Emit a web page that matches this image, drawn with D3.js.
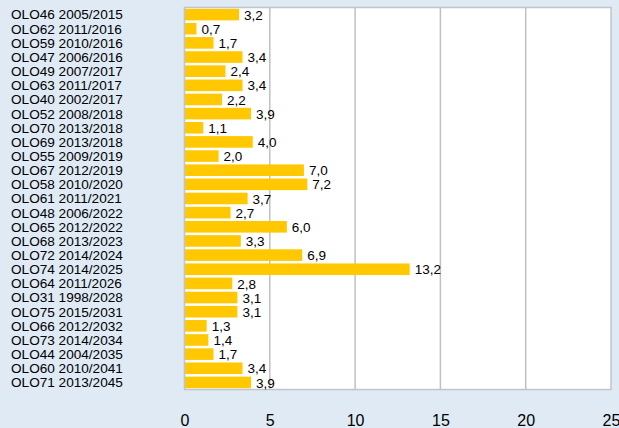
<!DOCTYPE html>
<html><head><meta charset="utf-8">
<script src="https://cdn.jsdelivr.net/npm/d3@7"></script>
<style>html,body{margin:0;padding:0;background:#dfeaf4;}svg{display:block;}</style>
</head><body>
<script>
const categories = ["OLO46 2005/2015","OLO62 2011/2016","OLO59 2010/2016","OLO47 2006/2016","OLO49 2007/2017","OLO63 2011/2017","OLO40 2002/2017","OLO52 2008/2018","OLO70 2013/2018","OLO69 2013/2018","OLO55 2009/2019","OLO67 2012/2019","OLO58 2010/2020","OLO61 2011/2021","OLO48 2006/2022","OLO65 2012/2022","OLO68 2013/2023","OLO72 2014/2024","OLO74 2014/2025","OLO64 2011/2026","OLO31 1998/2028","OLO75 2015/2031","OLO66 2012/2032","OLO73 2014/2034","OLO44 2004/2035","OLO60 2010/2041","OLO71 2013/2045"];
const values = [3.2,0.7,1.7,3.4,2.4,3.4,2.2,3.9,1.1,4.0,2.0,7.0,7.2,3.7,2.7,6.0,3.3,6.9,13.2,2.8,3.1,3.1,1.3,1.4,1.7,3.4,3.9];
const xTicks = [0,5,10,15,20,25];

(function(){
const W=619,H=428;
const pL=184.5,pR=611,pT=7.5,pB=389.5;
const svg=d3.select("body").append("svg").attr("width",W).attr("height",H);
svg.append("rect").attr("width",W).attr("height",H).attr("fill","#dfeaf4");

const x=d3.scaleLinear().domain([0,25]).range([pL,pR]);
const y=d3.scaleBand().domain(categories).range([pT,pB]).paddingInner(0.18).paddingOuter(0.09);

svg.append("rect").attr("x",pL).attr("y",pT).attr("width",pR-pL).attr("height",pB-pT).attr("fill","#fff");

svg.append("g").selectAll("line").data(xTicks.slice(1,-1)).join("line")
  .attr("x1",d=>x(d)).attr("x2",d=>x(d)).attr("y1",pT).attr("y2",pB)
  .attr("stroke","#c0c0c0").attr("stroke-width",1.5);

svg.append("g").selectAll("rect").data(values).join("rect")
  .attr("x",x(0)).attr("y",(d,i)=>y(categories[i])).attr("width",d=>x(d)-x(0)).attr("height",y.bandwidth())
  .attr("fill","#ffc800");

svg.append("rect").attr("x",pL).attr("y",pT).attr("width",pR-pL).attr("height",pB-pT)
  .attr("fill","none").attr("stroke","#c0c4cc").attr("stroke-width",1.5);

const font="Liberation Sans, Arial, sans-serif";
svg.append("g").selectAll("text").data(values).join("text")
  .attr("x",d=>x(d)+5).attr("y",(d,i)=>y(categories[i])+y.bandwidth()/2).attr("dy","0.38em")
  .attr("font-family",font).attr("font-size",13.5).attr("fill","#000")
  .text(d=>d.toFixed(1).replace(".",","));

svg.append("g").selectAll("text").data(categories).join("text")
  .attr("x",11).attr("y",d=>y(d)+y.bandwidth()/2).attr("dy","0.36em")
  .attr("font-family",font).attr("font-size",13.6).attr("fill","#000")
  .text(d=>d);

const ax=d3.axisBottom(x).tickValues(xTicks).tickSize(0).tickPadding(0);
const g=svg.append("g").attr("transform",`translate(0,${415})`).call(ax);
g.select(".domain").remove();
g.selectAll("text").attr("font-family",font).attr("font-size",16).attr("fill","#000").attr("dy","0.71em");
})();
</script>
</body></html>
